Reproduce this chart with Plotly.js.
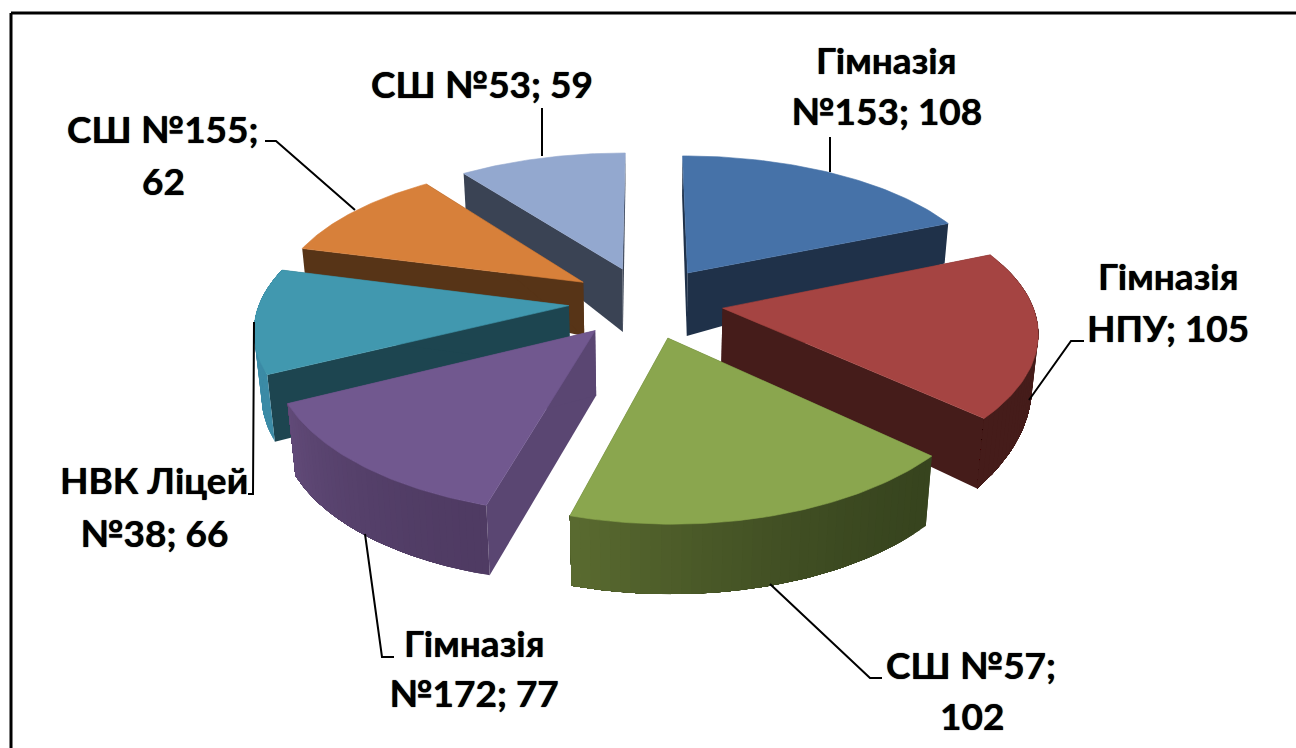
<!DOCTYPE html>
<html><head><meta charset="utf-8">
<script src="https://cdn.plot.ly/plotly-3.0.1.min.js"></script>
<style>html,body{margin:0;padding:0;background:#fff;overflow:hidden}#c{width:1296px;height:748px}</style>
</head><body><div id="c"></div>
<script>
// Data
const categories = ["Гімназія №153","Гімназія НПУ","СШ №57","Гімназія №172","НВК Ліцей №38","СШ №155","СШ №53"];
const values = [108,105,102,77,66,62,59];

// Styles, one entry per slice
const topColors   = ["#4672a8","#a54442","#8aa64e","#71588f","#4198af","#d7803a","#93a8cf"];
const faceColors  = ["#1f3149","#451c1a","#37441e","#5a4672","#1d4550","#573417","#3a4354"];
const rimFrom     = [[31,49,73],[69,28,26],[55,68,30],[79,59,99],[60,139,166],[87,52,23],[58,67,84]];
const rimTo       = [[31,49,73],[69,28,26],[90,107,48],[97,74,120],[60,139,166],[87,52,23],[58,67,84]];
const rimVisible  = [false,true,true,true,true,false,false];
const depthApex   = [63,60,66,65,62,54,63];
const depthStart  = [40,35,70,70,67,25,35];
const depthEnd    = [40,70,70,72,60,20,30];
const drawOrder   = [0,6,5,4,1,3,2];

// Projection settings
const CX=646, CY=302, AX=309, BY=144, PV=0.158, PH=0.14, PULL=0.25, STEPS=40, SHRINK=0.0003;
const proj=(X,Y)=>[CX+AX*X/(1-PH*Y), CY+BY*Y/(1-PV*Y)];

const total=values.reduce((a,b)=>a+b,0);
let acc=0;
const slices=values.map((v,i)=>{const a0=acc/total*2*Math.PI; acc+=v; const a1=acc/total*2*Math.PI;
  const m=(a0+a1)/2; return {i,a0,a1,ax:PULL*Math.sin(m),ay:-PULL*Math.cos(m)};});
const rimPt=(s,t)=>{const a=s.a0+(s.a1-s.a0)*t; return proj(s.ax+Math.sin(a),s.ay-Math.cos(a));};
const poly=(pts,color,name)=>({type:'scatter',mode:'lines',x:pts.map(p=>p[0]).concat(pts[0][0]),y:pts.map(p=>p[1]).concat(pts[0][1]),
  fill:'toself',fillcolor:color,line:{color:color,width:name?0.6:0},hoverinfo:name?'text':'skip',text:name||'',showlegend:false});

const traces=[];
drawOrder.forEach(i=>{const s=slices[i]; const ap=proj(s.ax,s.ay);
  const dn=(p,d)=>[p[0]-(p[0]-CX)*d*SHRINK,p[1]+d]; const c=faceColors[i];
  const dAt=t=>depthStart[i]+(depthEnd[i]-depthStart[i])*t;
  // radial faces
  const p0=rimPt(s,0), p1=rimPt(s,1);
  traces.push(poly([ap,p0,dn(p0,depthStart[i]),dn(ap,depthApex[i])],c));
  traces.push(poly([ap,p1,dn(p1,depthEnd[i]),dn(ap,depthApex[i])],c));
  // rim wall: overlapping bands, each reaching the end of the rim, so no seams appear
  if(rimVisible[i]) for(let k=0;k<STEPS;k++){const tm=(k+0.5)/STEPS, e=Math.pow(tm,1.6);
    const col=rimFrom[i].map((x,n)=>Math.round(x+(rimTo[i][n]-x)*e));
    const upper=[],lower=[];
    for(let j=k;j<=STEPS;j++){const t=j/STEPS,p=rimPt(s,t); upper.push(p); lower.unshift(dn(p,dAt(t)));}
    traces.push(poly(upper.concat(lower),'rgb('+col.join(',')+')'));}
  // top face
  const top=[ap]; for(let k=0;k<=60;k++) top.push(rimPt(s,k/60));
  traces.push(poly(top,topColors[i],categories[i]+': '+values[i]));
});

// Leader lines
const leaders=[
 [[830,137],[830,172]],
 [[1084,341],[1071,341],[1029,400]],
 [[770,584],[870,678],[882,678]],
 [[365,534],[382,657],[394,657]],
 [[254,322],[253,494],[248,494]],
 [[265,141],[276,141],[355,210]],
 [[542,108],[542,156]]
];
leaders.forEach(l=>traces.push({type:'scatter',mode:'lines',x:l.map(p=>p[0]),y:l.map(p=>p[1]),line:{color:'#000',width:2},hoverinfo:'skip',showlegend:false}));

// Label lines
const labelLines=[
 ["Гімназія",886,59],["№153; 108",886,110],
 ["Гімназія",1168,275],["НПУ; 105",1168,327],
 ["СШ №57;",971,664],["102",972,715],
 ["Гімназія",474,642],["№172; 77",474,692],
 ["НВК Ліцей",154,479],["№38; 66",154,532],
 ["СШ №155;",163,128],["62",163,180],
 ["СШ №53; 59",482,83]
];
const annotations=labelLines.map(l=>({text:'<b>'+l[0]+'</b>',x:l[1],y:l[2],xref:'x',yref:'y',xanchor:'center',yanchor:'middle',showarrow:false,
  font:{family:'Lato, "Noto Sans", sans-serif',size:37,color:'#000',shadow:'0 0 1px #000'}}));

const layout={width:1296,height:748,margin:{l:0,r:0,t:0,b:0},paper_bgcolor:'#fff',plot_bgcolor:'#fff',showlegend:false,
  xaxis:{range:[0,1296],visible:false,fixedrange:true},yaxis:{range:[748,0],visible:false,fixedrange:true},
  annotations,
  shapes:[{type:'line',xref:'x',yref:'y',x0:11,y0:13,x1:1296,y1:13,line:{color:'#000',width:3}},
          {type:'line',xref:'x',yref:'y',x0:11,y0:13,x1:11,y1:748,line:{color:'#000',width:3}}]};
Plotly.newPlot('c',traces,layout,{displayModeBar:false});
</script></body></html>
